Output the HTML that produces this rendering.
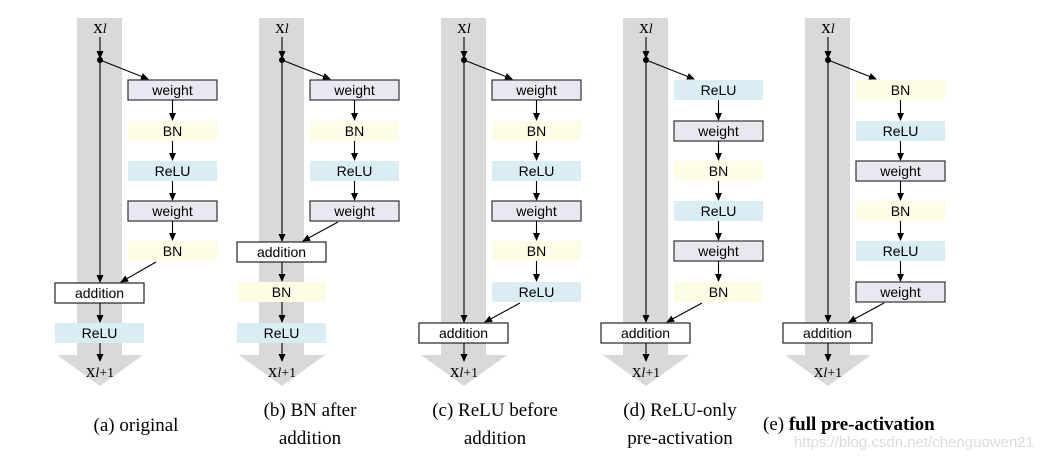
<!DOCTYPE html>
<html><head><style>
body{margin:0;background:#fff;width:1042px;height:462px;overflow:hidden}
svg text{font-family:"Liberation Sans",sans-serif;font-size:14px;text-anchor:middle}
.w{fill:#ecе8f1;fill:#ebe7f0;stroke:#333;stroke-width:1.2}
.bn{fill:#fdfce4}
.re{fill:#daedf3}
.ad{fill:#fff;stroke:#222;stroke-width:1.2}
.l{stroke:#000;stroke-width:1.1;fill:none;marker-end:url(#ah)}
.col{fill:#d9d9d9}
.x{font-family:"Liberation Serif",serif!important;font-size:19px!important}
.cap{font-family:"Liberation Serif",serif!important;font-size:19px!important}
</style></head><body>
<svg width="1042" height="462" viewBox="0 0 1042 462">
<defs><marker id="ah" markerWidth="8" markerHeight="8" refX="7" refY="4" orient="auto" markerUnits="userSpaceOnUse"><path d="M0,0.5 L8,4 L0,7.5z" fill="#000"/></marker></defs>

<!-- column template a -->
<g>
<rect class="col" x="77" y="18" width="45" height="337"/><polygon class="col" points="57,355 143,355 100,386"/>
<text class="x" x="100" y="33">x<tspan font-style="italic" font-size="14">l</tspan></text>
<line class="l" x1="100" y1="37" x2="100" y2="58"/><circle cx="100" cy="60" r="3"/>
<line class="l" x1="100" y1="60" x2="100" y2="282"/><line class="l" x1="100" y1="60" x2="148" y2="79"/>
<rect class="w" x="128" y="80" width="89" height="20"/><text x="172.5" y="95">weight</text>
<line class="l" x1="172.5" y1="100" x2="172.5" y2="120"/>
<rect class="bn" x="128" y="121" width="89" height="20"/><text x="172.5" y="136">BN</text>
<line class="l" x1="172.5" y1="141" x2="172.5" y2="160"/>
<rect class="re" x="128" y="161" width="89" height="20"/><text x="172.5" y="176">ReLU</text>
<line class="l" x1="172.5" y1="181" x2="172.5" y2="200"/>
<rect class="w" x="128" y="201" width="89" height="20"/><text x="172.5" y="216">weight</text>
<line class="l" x1="172.5" y1="221" x2="172.5" y2="240"/>
<rect class="bn" x="128" y="241" width="89" height="20"/><text x="172.5" y="256">BN</text>
<line class="l" x1="156" y1="262" x2="121" y2="282"/>
<rect class="ad" x="55" y="283" width="89" height="20"/><text x="99.5" y="298">addition</text>
<line class="l" x1="100" y1="303" x2="100" y2="322"/>
<rect class="re" x="55" y="323" width="89" height="20"/><text x="99.5" y="338">ReLU</text>
<line class="l" x1="100" y1="343" x2="100" y2="361"/>
<text class="x" x="100" y="377">x<tspan font-style="italic" font-size="14">l</tspan><tspan font-size="14">+1</tspan></text>
<text class="cap" x="136" y="431">(a) original</text>
</g>

<!-- b -->
<g transform="translate(182,0)">
<rect class="col" x="77" y="18" width="45" height="337"/><polygon class="col" points="57,355 143,355 100,386"/>
<text class="x" x="100" y="33">x<tspan font-style="italic" font-size="14">l</tspan></text>
<line class="l" x1="100" y1="37" x2="100" y2="58"/><circle cx="100" cy="60" r="3"/>
<line class="l" x1="100" y1="60" x2="100" y2="241"/><line class="l" x1="100" y1="60" x2="148" y2="79"/>
<rect class="w" x="128" y="80" width="89" height="20"/><text x="172.5" y="95">weight</text>
<line class="l" x1="172.5" y1="100" x2="172.5" y2="120"/>
<rect class="bn" x="128" y="121" width="89" height="20"/><text x="172.5" y="136">BN</text>
<line class="l" x1="172.5" y1="141" x2="172.5" y2="160"/>
<rect class="re" x="128" y="161" width="89" height="20"/><text x="172.5" y="176">ReLU</text>
<line class="l" x1="172.5" y1="181" x2="172.5" y2="200"/>
<rect class="w" x="128" y="201" width="89" height="20"/><text x="172.5" y="216">weight</text>
<line class="l" x1="156" y1="222" x2="121" y2="241"/>
<rect class="ad" x="55" y="242" width="89" height="20"/><text x="99.5" y="257">addition</text>
<line class="l" x1="100" y1="262" x2="100" y2="281"/>
<rect class="bn" x="55" y="282" width="89" height="20"/><text x="99.5" y="297">BN</text>
<line class="l" x1="100" y1="302" x2="100" y2="322"/>
<rect class="re" x="55" y="323" width="89" height="20"/><text x="99.5" y="338">ReLU</text>
<line class="l" x1="100" y1="343" x2="100" y2="361"/>
<text class="x" x="100" y="377">x<tspan font-style="italic" font-size="14">l</tspan><tspan font-size="14">+1</tspan></text>
<text class="cap" x="128" y="416">(b) BN after</text>
<text class="cap" x="128" y="444">addition</text>
</g>

<!-- c -->
<g transform="translate(364,0)">
<rect class="col" x="77" y="18" width="45" height="337"/><polygon class="col" points="57,355 143,355 100,386"/>
<text class="x" x="100" y="33">x<tspan font-style="italic" font-size="14">l</tspan></text>
<line class="l" x1="100" y1="37" x2="100" y2="58"/><circle cx="100" cy="60" r="3"/>
<line class="l" x1="100" y1="60" x2="100" y2="322"/><line class="l" x1="100" y1="60" x2="148" y2="79"/>
<rect class="w" x="128" y="80" width="89" height="20"/><text x="172.5" y="95">weight</text>
<line class="l" x1="172.5" y1="100" x2="172.5" y2="120"/>
<rect class="bn" x="128" y="121" width="89" height="20"/><text x="172.5" y="136">BN</text>
<line class="l" x1="172.5" y1="141" x2="172.5" y2="160"/>
<rect class="re" x="128" y="161" width="89" height="20"/><text x="172.5" y="176">ReLU</text>
<line class="l" x1="172.5" y1="181" x2="172.5" y2="200"/>
<rect class="w" x="128" y="201" width="89" height="20"/><text x="172.5" y="216">weight</text>
<line class="l" x1="172.5" y1="221" x2="172.5" y2="240"/>
<rect class="bn" x="128" y="241" width="89" height="20"/><text x="172.5" y="256">BN</text>
<line class="l" x1="172.5" y1="261" x2="172.5" y2="281"/>
<rect class="re" x="128" y="282" width="89" height="20"/><text x="172.5" y="297">ReLU</text>
<line class="l" x1="156" y1="303" x2="121" y2="322"/>
<rect class="ad" x="55" y="323" width="89" height="20"/><text x="99.5" y="338">addition</text>
<line class="l" x1="100" y1="343" x2="100" y2="361"/>
<text class="x" x="100" y="377">x<tspan font-style="italic" font-size="14">l</tspan><tspan font-size="14">+1</tspan></text>
<text class="cap" x="131" y="416">(c) ReLU before</text>
<text class="cap" x="131" y="444">addition</text>
</g>

<!-- d -->
<g transform="translate(546,0)">
<rect class="col" x="77" y="18" width="45" height="337"/><polygon class="col" points="57,355 143,355 100,386"/>
<text class="x" x="100" y="33">x<tspan font-style="italic" font-size="14">l</tspan></text>
<line class="l" x1="100" y1="37" x2="100" y2="58"/><circle cx="100" cy="60" r="3"/>
<line class="l" x1="100" y1="60" x2="100" y2="322"/><line class="l" x1="100" y1="60" x2="148" y2="79"/>
<rect class="re" x="128" y="80" width="89" height="20"/><text x="172.5" y="95">ReLU</text>
<line class="l" x1="172.5" y1="100" x2="172.5" y2="120"/>
<rect class="w" x="128" y="121" width="89" height="20"/><text x="172.5" y="136">weight</text>
<line class="l" x1="172.5" y1="141" x2="172.5" y2="160"/>
<rect class="bn" x="128" y="161" width="89" height="20"/><text x="172.5" y="176">BN</text>
<line class="l" x1="172.5" y1="181" x2="172.5" y2="200"/>
<rect class="re" x="128" y="201" width="89" height="20"/><text x="172.5" y="216">ReLU</text>
<line class="l" x1="172.5" y1="221" x2="172.5" y2="240"/>
<rect class="w" x="128" y="241" width="89" height="20"/><text x="172.5" y="256">weight</text>
<line class="l" x1="172.5" y1="261" x2="172.5" y2="281"/>
<rect class="bn" x="128" y="282" width="89" height="20"/><text x="172.5" y="297">BN</text>
<line class="l" x1="156" y1="303" x2="121" y2="322"/>
<rect class="ad" x="55" y="323" width="89" height="20"/><text x="99.5" y="338">addition</text>
<line class="l" x1="100" y1="343" x2="100" y2="361"/>
<text class="x" x="100" y="377">x<tspan font-style="italic" font-size="14">l</tspan><tspan font-size="14">+1</tspan></text>
<text class="cap" x="134" y="416">(d) ReLU-only</text>
<text class="cap" x="134" y="444">pre-activation</text>
</g>

<!-- e -->
<g transform="translate(728,0)">
<rect class="col" x="77" y="18" width="45" height="337"/><polygon class="col" points="57,355 143,355 100,386"/>
<text class="x" x="100" y="33">x<tspan font-style="italic" font-size="14">l</tspan></text>
<line class="l" x1="100" y1="37" x2="100" y2="58"/><circle cx="100" cy="60" r="3"/>
<line class="l" x1="100" y1="60" x2="100" y2="322"/><line class="l" x1="100" y1="60" x2="148" y2="79"/>
<rect class="bn" x="128" y="80" width="89" height="20"/><text x="172.5" y="95">BN</text>
<line class="l" x1="172.5" y1="100" x2="172.5" y2="120"/>
<rect class="re" x="128" y="121" width="89" height="20"/><text x="172.5" y="136">ReLU</text>
<line class="l" x1="172.5" y1="141" x2="172.5" y2="160"/>
<rect class="w" x="128" y="161" width="89" height="20"/><text x="172.5" y="176">weight</text>
<line class="l" x1="172.5" y1="181" x2="172.5" y2="200"/>
<rect class="bn" x="128" y="201" width="89" height="20"/><text x="172.5" y="216">BN</text>
<line class="l" x1="172.5" y1="221" x2="172.5" y2="240"/>
<rect class="re" x="128" y="241" width="89" height="20"/><text x="172.5" y="256">ReLU</text>
<line class="l" x1="172.5" y1="261" x2="172.5" y2="281"/>
<rect class="w" x="128" y="282" width="89" height="20"/><text x="172.5" y="297">weight</text>
<line class="l" x1="156" y1="303" x2="121" y2="322"/>
<rect class="ad" x="55" y="323" width="89" height="20"/><text x="99.5" y="338">addition</text>
<line class="l" x1="100" y1="343" x2="100" y2="361"/>
<text class="x" x="100" y="377">x<tspan font-style="italic" font-size="14">l</tspan><tspan font-size="14">+1</tspan></text>
</g>
<text class="cap" x="763" y="430" style="text-anchor:start">(e) <tspan font-weight="bold">full pre-activation</tspan></text>
<text x="1034" y="447" style="text-anchor:end;font-size:15px;fill:#dcdcdc">https://blog.csdn.net/chenguowen21</text>
</svg>
</body></html>
